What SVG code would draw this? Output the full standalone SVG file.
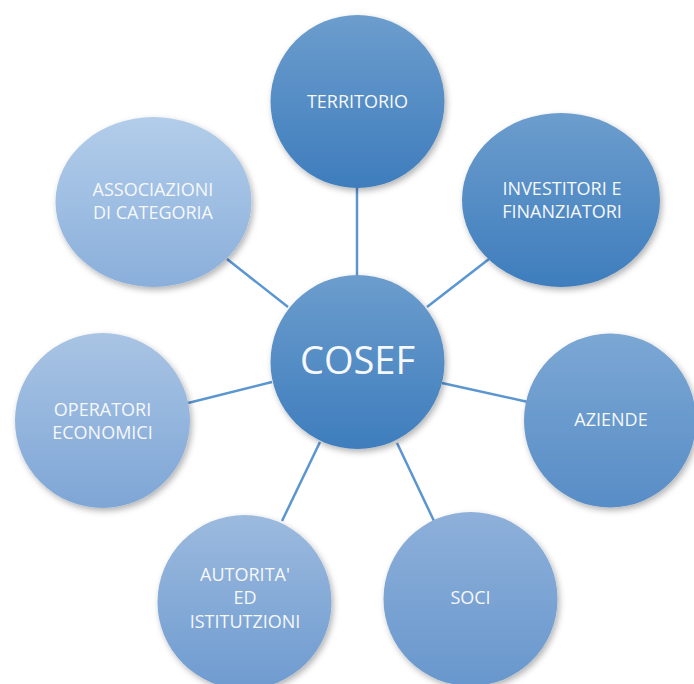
<svg xmlns="http://www.w3.org/2000/svg" width="694" height="684" viewBox="0 0 694 684">
  <defs>
    <linearGradient id="gDark" x1="0" y1="0" x2="0" y2="1">
      <stop offset="0" stop-color="#6c9dcd"/>
      <stop offset="1" stop-color="#3e7dbd"/>
    </linearGradient>
    <linearGradient id="gMid" x1="0" y1="0" x2="0" y2="1">
      <stop offset="0" stop-color="#7ba7d4"/>
      <stop offset="1" stop-color="#588dc6"/>
    </linearGradient>
    <linearGradient id="gSoci" x1="0" y1="0" x2="0" y2="1">
      <stop offset="0" stop-color="#8eb0da"/>
      <stop offset="1" stop-color="#6897cd"/>
    </linearGradient>
    <linearGradient id="gAut" x1="0" y1="0" x2="0" y2="1">
      <stop offset="0" stop-color="#9cbade"/>
      <stop offset="1" stop-color="#6e9bd0"/>
    </linearGradient>
    <linearGradient id="gOp" x1="0" y1="0" x2="0" y2="1">
      <stop offset="0" stop-color="#a9c4e4"/>
      <stop offset="1" stop-color="#7ea6d6"/>
    </linearGradient>
    <linearGradient id="gAss" x1="0" y1="0" x2="0" y2="1">
      <stop offset="0" stop-color="#b3cdea"/>
      <stop offset="1" stop-color="#8aafdb"/>
    </linearGradient>
    <filter id="shadow" x="-20%" y="-20%" width="140%" height="140%">
      <feDropShadow dx="2" dy="3" stdDeviation="3" flood-color="#000" flood-opacity="0.3"/>
    </filter>
  </defs>
  <style>
    .link { stroke: #5b96d1; stroke-width: 2.5; fill: none; }
    .node { filter: url(#shadow); }
    .lbl { font-family: "Open Sans", "Liberation Sans", sans-serif; font-size: 18px; fill: #f6f8fb; text-anchor: middle; }
    .big { font-size: 38px; }
  </style>
  <rect width="694" height="684" fill="#ffffff"/>

  <!-- spokes from the hub to each satellite -->
  <g id="connectors">
    <line class="link" x1="357" y1="186" x2="357" y2="276"/>
    <line class="link" x1="427" y1="307" x2="489" y2="259"/>
    <line class="link" x1="442" y1="383" x2="528" y2="402"/>
    <line class="link" x1="397" y1="443" x2="434" y2="521"/>
    <line class="link" x1="320" y1="442" x2="282" y2="521"/>
    <line class="link" x1="272" y1="382" x2="188" y2="403"/>
    <line class="link" x1="288" y1="307" x2="227" y2="259"/>
  </g>

  <g id="territorio">
    <ellipse class="node" cx="357.5" cy="101.5" rx="87" ry="86.5" fill="url(#gDark)"/>
    <text class="lbl" x="357.5" y="108">TERRITORIO</text>
  </g>

  <g id="investitori">
    <ellipse class="node" cx="561" cy="200" rx="99" ry="87" fill="url(#gDark)"/>
    <text class="lbl" x="562" y="195">INVESTITORI E</text>
    <text class="lbl" x="562" y="218">FINANZIATORI</text>
  </g>

  <g id="aziende">
    <ellipse class="node" cx="610" cy="420.5" rx="86" ry="87" fill="url(#gMid)"/>
    <text class="lbl" x="611" y="426">AZIENDE</text>
  </g>

  <g id="soci">
    <ellipse class="node" cx="470.5" cy="599" rx="87" ry="87" fill="url(#gSoci)"/>
    <text class="lbl" x="470.5" y="604">SOCI</text>
  </g>

  <g id="autorita">
    <ellipse class="node" cx="244.5" cy="602" rx="87" ry="87" fill="url(#gAut)"/>
    <text class="lbl" x="245" y="581">AUTORITA'</text>
    <text class="lbl" x="245" y="604">ED</text>
    <text class="lbl" x="245" y="628">ISTITUTZIONI</text>
  </g>

  <g id="operatori">
    <ellipse class="node" cx="102.5" cy="420.5" rx="87.5" ry="87.5" fill="url(#gOp)"/>
    <text class="lbl" x="102.5" y="416">OPERATORI</text>
    <text class="lbl" x="102.5" y="439">ECONOMICI</text>
  </g>

  <g id="associazioni">
    <ellipse class="node" cx="153.5" cy="202" rx="98" ry="85" fill="url(#gAss)"/>
    <text class="lbl" x="153" y="196">ASSOCIAZIONI</text>
    <text class="lbl" x="153" y="219">DI CATEGORIA</text>
  </g>

  <g id="cosef">
    <ellipse class="node" cx="357.5" cy="362" rx="87" ry="87" fill="url(#gDark)"/>
    <text class="lbl big" x="357.5" y="374">COSEF</text>
  </g>
</svg>
